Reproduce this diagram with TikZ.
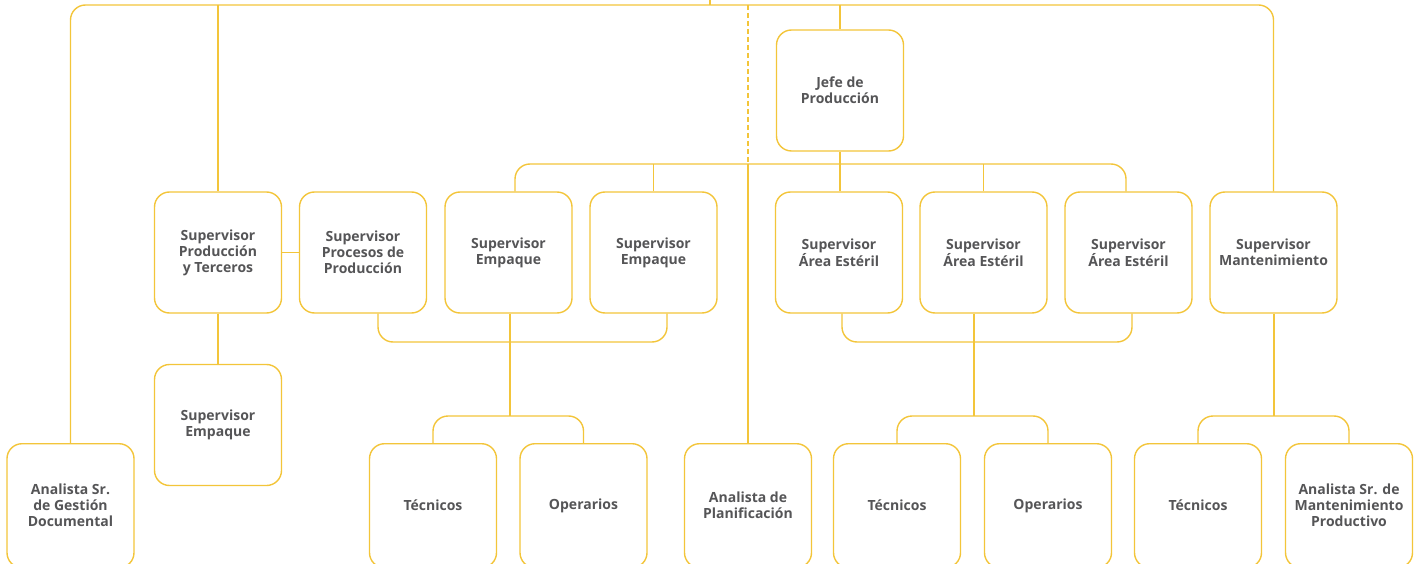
\documentclass[tikz,border=0pt]{standalone}
\usepackage{fontspec}
\setmainfont{Open Sans}
\definecolor{lineY}{HTML}{F3C53A}
\definecolor{txtG}{HTML}{555557}
\tikzset{
  box/.style={draw=lineY, line width=1.4pt, rounded corners=15pt, fill=white,
    minimum width=127pt, minimum height=121pt, align=center, inner sep=2pt,
    text=txtG, font=\fontsize{14}{16}\selectfont\bfseries},
  lowbox/.style={box, minimum height=124pt},
  conn/.style={draw=lineY, line width=1.4pt},
  rconn/.style={conn, rounded corners=15pt}
}
\begin{document}
\begin{tikzpicture}[x=1pt,y=-1pt]
\useasboundingbox (0,0) rectangle (1421,564);
% coordinates
\coordinate (top) at (0,5);
\coordinate (up) at (710,0);
\coordinate (r2l) at (515,164);
\coordinate (r2r) at (1126,164);
\coordinate (bl) at (378,342);
\coordinate (br) at (667,342);
\coordinate (cl) at (510,416);
\coordinate (bl2) at (842,342);
\coordinate (br2) at (1132,342);
\coordinate (cl2) at (974,416);
\coordinate (cl3) at (1274,416);
% nodes
\node[box] (jefe) at (840,90.5) {Jefe de\\Producción};
\node[box] (spt) at (218,252.5) {Supervisor\\Producción\\y Terceros};
\node[box] (spp) at (363,252.5) {Supervisor\\Procesos de\\Producción};
\node[box] (se1) at (508.5,252.5) {Supervisor\\Empaque};
\node[box] (se2) at (653.5,252.5) {Supervisor\\Empaque};
\node[box] (sa1) at (839,252.5) {Supervisor\\Área Estéril};
\node[box] (sa2) at (983.5,252.5) {Supervisor\\Área Estéril};
\node[box] (sa3) at (1128.5,252.5) {Supervisor\\Área Estéril};
\node[box] (sm) at (1273.5,252.5) {Supervisor\\Mantenimiento};
\node[box] (sep) at (218,425) {Supervisor\\Empaque};
\node[lowbox, anchor=north] (agd) at (70.5,443) {Analista Sr.\\de Gestión\\Documental};
\node[lowbox, anchor=north] (tec1) at (433,443) {Técnicos};
\node[lowbox, anchor=north] (op1) at (583.5,443) {Operarios};
\node[lowbox, anchor=north] (apl) at (748,443) {Analista de\\Planificación};
\node[lowbox, anchor=north] (tec2) at (897,443) {Técnicos};
\node[lowbox, anchor=north] (op2) at (1048,443) {Operarios};
\node[lowbox, anchor=north] (tec3) at (1198,443) {Técnicos};
\node[lowbox, anchor=north] (asm) at (1349,443) {Analista Sr. de\\Mantenimiento\\Productivo};
% connectors
\draw[rconn] (agd.north) |- (top -| sm.north) -- (sm.north);
\draw[conn] (up) -- (up |- top);
\draw[conn] (spt.north |- top) -- (spt.north);
\draw[conn] (jefe.north |- top) -- (jefe.north);
\draw[conn, dashed, dash pattern=on 5pt off 3pt] (apl.north |- top) -- (apl.north |- r2l);
\draw[conn] (apl.north |- r2l) -- (apl.north);
\draw[rconn] (r2l |- se1.north) -- (r2l) -- (r2r) -- (r2r |- sa3.north);
\draw[conn] (se2.north |- r2l) -- (se2.north);
\draw[conn] (jefe.south) -- (jefe.south |- sa1.north);
\draw[conn] (sa2.north |- r2l) -- (sa2.north);
\draw[conn] (spt.east) -- (spp.west);
\draw[conn] (spt.south) -- (sep.north);
\draw[rconn] (bl |- spp.south) -- (bl) -- (br) -- (br |- se2.south);
\draw[conn] (cl |- se1.south) -- (cl);
\draw[rconn] (tec1.north) |- (cl) -| (op1.north);
\draw[rconn] (bl2 |- sa1.south) -- (bl2) -- (br2) -- (br2 |- sa3.south);
\draw[conn] (cl2 |- sa2.south) -- (cl2);
\draw[rconn] (tec2.north) |- (cl2) -| (op2.north);
\draw[conn] (cl3 |- sm.south) -- (cl3);
\draw[rconn] (tec3.north) |- (cl3) -| (asm.north);
\end{tikzpicture}
\end{document}
